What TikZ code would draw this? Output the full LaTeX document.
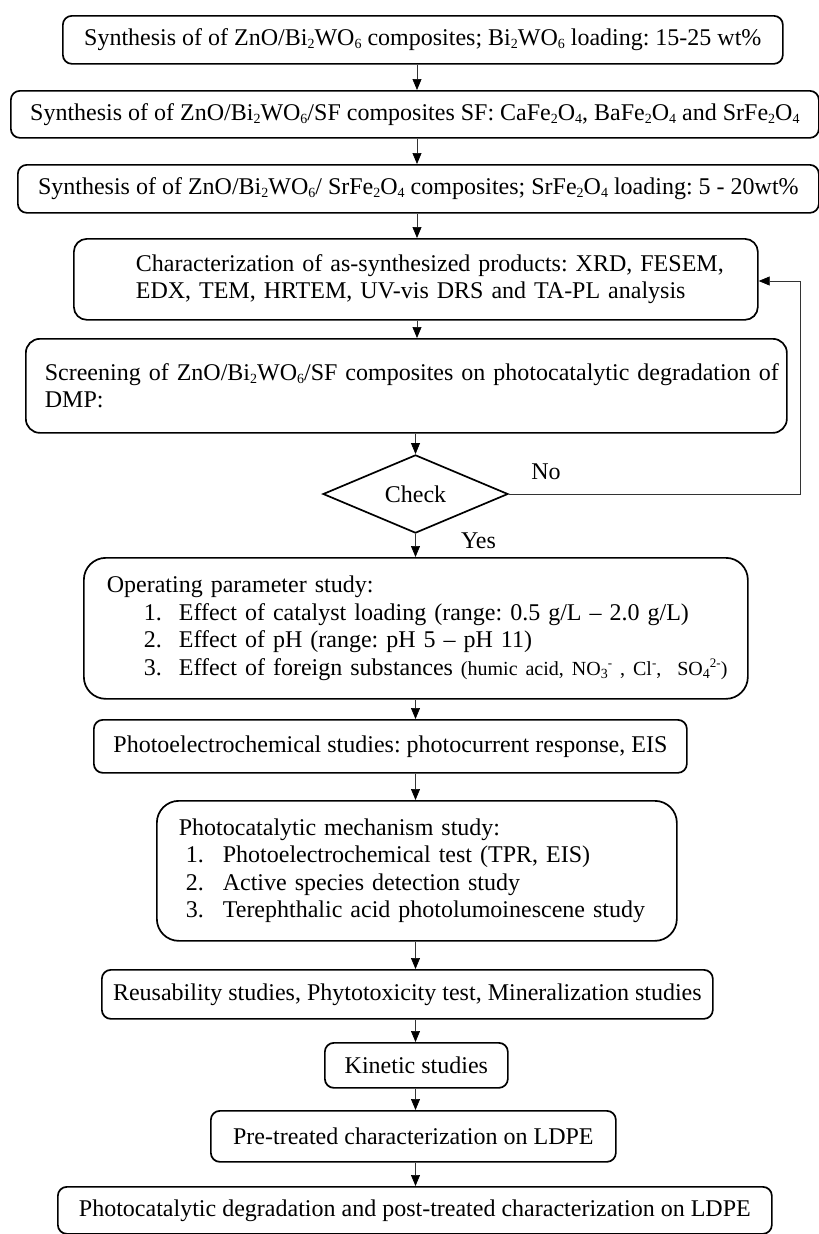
\documentclass[tikz,border=0pt]{standalone}
\usepackage{fontspec}
\setmainfont{Liberation Serif}
\usetikzlibrary{shapes.geometric}
\usetikzlibrary{arrows.meta}
\usetikzlibrary{positioning}

\tikzset{
  box/.style={draw, line width=1.7pt, rounded corners=9pt, anchor=north west,
    inner sep=0pt, align=center, font=\fontsize{24pt}{27.5pt}\selectfont\frenchspacing},
  lbox/.style={box, align=left, inner xsep=10pt},
  flow/.style={line width=0.7pt, draw=black!80, -{Triangle[length=11pt,width=9pt,color=black]}},
  lbl/.style={font=\fontsize{24pt}{27.5pt}\selectfont, inner sep=0pt},
}
\newcommand{\sub}[1]{\raisebox{-3pt}{\fontsize{14pt}{14pt}\selectfont #1}}
\newcommand{\sups}[1]{\raisebox{8pt}{\fontsize{13pt}{13pt}\selectfont #1}}

\begin{document}
\begin{tikzpicture}[x=1pt, y=-1pt]
    \useasboundingbox (0,0) rectangle (819,1234);

    \node[box, minimum width=720pt, minimum height=48pt] (syn1) at (62,15)
        {Synthesis of of ZnO/Bi\sub{2}WO\sub{6} composites; Bi\sub{2}WO\sub{6} loading: 15-25 wt\%};
    \node[box, minimum width=808pt, minimum height=47pt] (syn2) at (10,90)
        {Synthesis of of ZnO/Bi\sub{2}WO\sub{6}/SF composites SF: CaFe\sub{2}O\sub{4}, BaFe\sub{2}O\sub{4} and SrFe\sub{2}O\sub{4}};
    \node[box, minimum width=801pt, minimum height=48pt] (syn3) at (17,164)
        {Synthesis of of ZnO/Bi\sub{2}WO\sub{6}/ SrFe\sub{2}O\sub{4} composites; SrFe\sub{2}O\sub{4} loading: 5 - 20wt\%};
    \node[lbox, rounded corners=13pt, minimum width=684pt, minimum height=81pt, text width=664pt] (char) at (73,238)
        {\hspace*{52pt}\mbox{Characterization of as-synthesized products: XRD, FESEM,}\\
         \hspace*{52pt}\mbox{EDX, TEM, HRTEM, UV-vis DRS and TA-PL analysis}};
    \node[lbox, rounded corners=14pt, minimum width=761pt, minimum height=94pt, text width=741pt] (scr) at (25,338)
        {\hspace*{9pt}\mbox{Screening of ZnO/Bi\sub{2}WO\sub{6}/SF composites on photocatalytic degradation of}\\
         \hspace*{9pt}DMP:};

    \node[draw, diamond, line width=1.7pt, inner sep=0pt, minimum width=185pt, minimum height=78pt,
          font=\fontsize{24pt}{27.5pt}\selectfont] (chk) at (415.5,494) {Check};
    \node[lbl, anchor=base] (no) at (546,479) {No};
    \node[lbl, anchor=base] (yes) at (478.5,548) {Yes};

    \node[lbox, rounded corners=22pt, minimum width=664pt, minimum height=141pt, text width=644pt] (op) at (83,557)
        {\hspace*{13pt}Operating parameter study:\\
         \hspace*{50pt}\makebox[35pt][l]{1.}Effect of catalyst loading (range: 0.5 g/L -- 2.0 g/L)\\
         \hspace*{50pt}\makebox[35pt][l]{2.}Effect of pH (range: pH 5 -- pH 11)\\
         \hspace*{50pt}\makebox[35pt][l]{3.}\mbox{Effect of foreign substances {\fontsize{20pt}{27.5pt}\selectfont(humic acid, NO\sub{3}\sups{-} , Cl\sups{-}, \ SO\sub{4}\sups{2-})}}};
    \node[box, minimum width=593pt, minimum height=53pt] (pec) at (93,719)
        {Photoelectrochemical studies: photocurrent response, EIS};
    \node[lbox, rounded corners=22pt, minimum width=520pt, minimum height=140pt, text width=500pt] (mech) at (156,800)
        {\hspace*{12pt}Photocatalytic mechanism study:\\
         \hspace*{19pt}\makebox[37pt][l]{1.}Photoelectrochemical test (TPR, EIS)\\
         \hspace*{19pt}\makebox[37pt][l]{2.}Active species detection study\\
         \hspace*{19pt}\makebox[37pt][l]{3.}\mbox{Terephthalic acid photolumoinescene study}};
    \node[box, minimum width=611pt, minimum height=49pt] (reu) at (101,969)
        {Reusability studies, Phytotoxicity test, Mineralization studies};
    \node[box, minimum width=183pt, minimum height=45pt] (kin) at (324,1042)
        {Kinetic studies};
    \node[box, minimum width=405pt, minimum height=51pt] (pre) at (210,1110)
        {Pre-treated characterization on LDPE};
    \node[box, minimum width=714pt, minimum height=47pt] (fin) at (57,1186)
        {Photocatalytic degradation and post-treated characterization on LDPE};

    \coordinate (ax) at (417,0);
    \coordinate (fb) at (800,281);

    \draw[flow] (syn1.south -| ax) -- (syn2.north -| ax);
    \draw[flow] (syn2.south -| ax) -- (syn3.north -| ax);
    \draw[flow] (syn3.south -| ax) -- (char.north -| ax);
    \draw[flow] (char.south -| ax) -- (scr.north -| ax);
    \draw[flow] (scr.south -| chk) -- (chk.north);
    \draw[flow] (chk.south) -- (op.north -| chk);
    \draw[flow] (chk.east) -| (fb) -- (fb -| char.east);
    \draw[flow] (op.south -| chk) -- (pec.north -| chk);
    \draw[flow] (pec.south -| chk) -- (mech.north -| chk);
    \draw[flow] (mech.south -| chk) -- (reu.north -| chk);
    \draw[flow] (reu.south -| chk) -- (kin.north -| chk);
    \draw[flow] (kin.south -| chk) -- (pre.north -| chk);
    \draw[flow] (pre.south -| chk) -- (fin.north -| chk);
\end{tikzpicture}
\end{document}
